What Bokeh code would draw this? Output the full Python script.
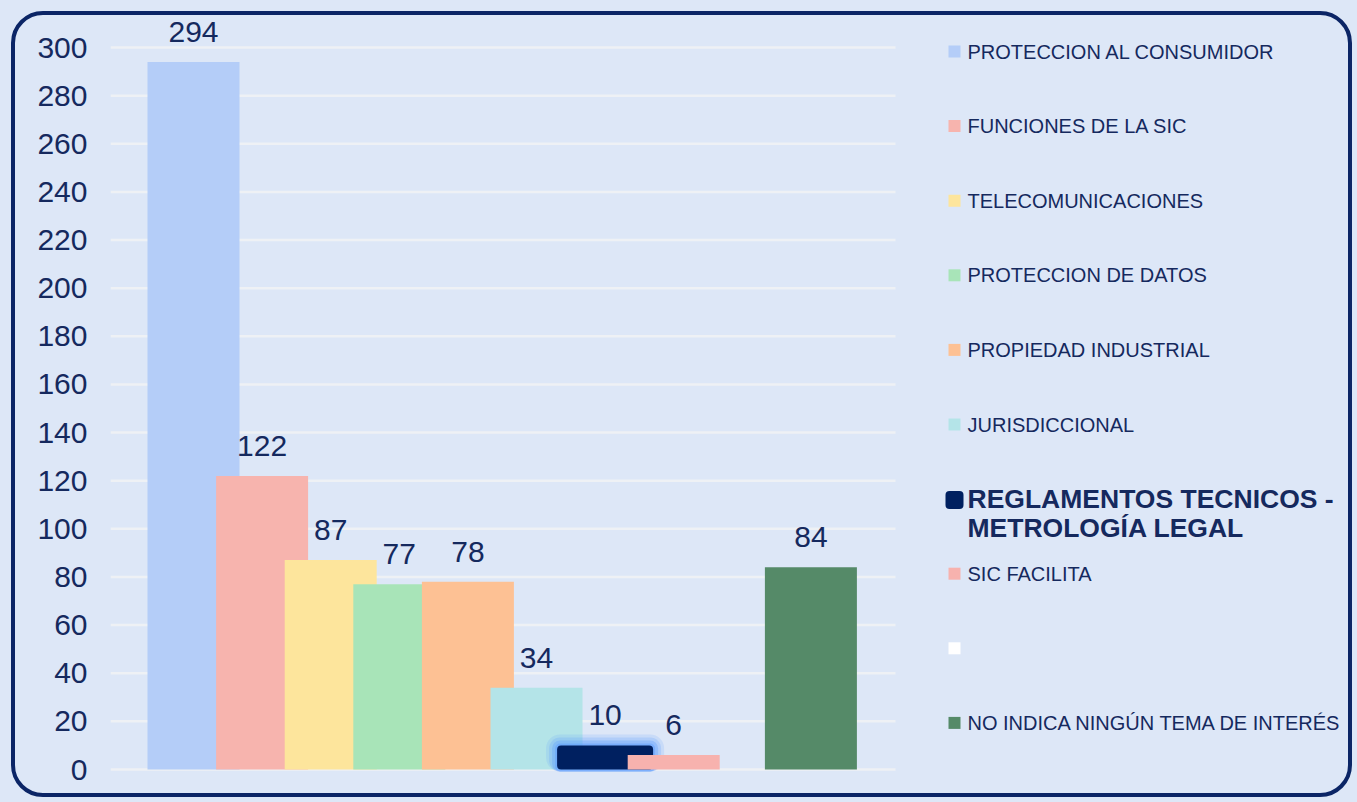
from bokeh.plotting import figure
from bokeh.models import Range1d, FixedTicker
from bokeh.core.properties import value
from bokeh.embed import file_html
from bokeh.resources import INLINE

# ---------------- data ----------------
categories = [
    "PROTECCION AL CONSUMIDOR",
    "FUNCIONES DE LA SIC",
    "TELECOMUNICACIONES",
    "PROTECCION DE DATOS",
    "PROPIEDAD INDUSTRIAL",
    "JURISDICCIONAL",
    "REGLAMENTOS TECNICOS -\nMETROLOGÍA LEGAL",
    "SIC FACILITA",
    "",
    "NO INDICA NINGÚN TEMA DE INTERÉS",
]
values = [294, 122, 87, 77, 78, 34, 10, 6, 0, 84]
colors = ["#b4cdf8", "#f7b4ae", "#fde59c", "#a8e4b8", "#fdc194",
          "#b4e4e8", "#002060", "#f7b2ae", "#ffffff", "#558a68"]
yticks = list(range(0, 301, 20))
highlight = 6   # emphasised series

# ---------------- layout constants (page pixels) ----------------
BG = "#dde7f7"
TXT = "#15295e"
STEP_PX = 68.6          # px per category
BAR_PX = 92.0
PX_PER_UNIT = 722 / 300
BORDER = 4
CANVAS_X, CANVAS_Y = 15, 15       # canvas origin on page
FIG_W, FIG_H = 1333, 778          # requested size
CANVAS_W, CANVAS_H = FIG_W + 2 * BORDER, FIG_H + 2 * BORDER  # drawn size
FRAME_L, FRAME_R, FRAME_T, FRAME_B = 110, 1348, 20, 790
X0_PAGE, Y0_PAGE, Y300_PAGE = 193, 769, 47

x_start = (FRAME_L - X0_PAGE) / STEP_PX
x_end = x_start + (FRAME_R - FRAME_L) / STEP_PX
y_start = -(FRAME_B - Y0_PAGE) / PX_PER_UNIT
y_end = 300 + (Y300_PAGE - FRAME_T) / PX_PER_UNIT

p = figure(width=FIG_W, height=FIG_H, output_backend="svg",
           toolbar_location=None,
           x_range=Range1d(x_start, x_end), y_range=Range1d(y_start, y_end),
           x_axis_type=None,
           min_border_left=FRAME_L - CANVAS_X,
           min_border_right=CANVAS_X + CANVAS_W - FRAME_R,
           min_border_top=FRAME_T - CANVAS_Y,
           min_border_bottom=CANVAS_Y + CANVAS_H - FRAME_B)
p.background_fill_alpha = 0
p.border_fill_alpha = 0
p.outline_line_color = None
p.ygrid.grid_line_color = None
p.styles = {"border": "%dpx solid #0b2566" % BORDER, "border-radius": "32px",
            "box-sizing": "content-box", "background-color": BG}

ax = p.yaxis[0]
ax.ticker = FixedTicker(ticks=yticks)
ax.axis_line_color = None
ax.major_tick_line_color = None
ax.minor_tick_line_color = None
ax.major_tick_out = 0
ax.major_tick_in = 0
ax.major_label_standoff = 23
ax.major_label_text_font = "Liberation Sans"
ax.major_label_text_font_size = "30px"
ax.major_label_text_color = TXT

# gridlines only under the bars area
grid_x_end = (895 - X0_PAGE) / STEP_PX
p.segment(x0=[x_start] * len(yticks), x1=[grid_x_end] * len(yticks),
          y0=yticks, y1=yticks, line_color="#eef1f5", line_width=2.5)

bw = BAR_PX / STEP_PX
idx = list(range(len(values)))

def bar(i):
    p.vbar(x=[i], top=[values[i]], bottom=0, width=bw,
           fill_color=colors[i], line_color=None)

for i in range(highlight):
    bar(i)

# glow for highlighted bar
for k, a in [(11, 0.16), (8, 0.22), (5, 0.32), (2, 0.45)]:
    p.vbar(x=[highlight], top=[values[highlight] + k / PX_PER_UNIT],
           bottom=-2 / PX_PER_UNIT, width=(BAR_PX + 4 + 2 * k) / STEP_PX,
           fill_color="#5b9bff", fill_alpha=a, line_color=None,
           border_radius=k + 3)
p.vbar(x=[highlight], top=[values[highlight]], bottom=0,
       width=(BAR_PX + 4) / STEP_PX, fill_color=colors[highlight],
       line_color=None, border_radius=4)

for i in range(highlight + 1, len(values)):
    bar(i)

# data labels
lab_x = [i for i in idx if categories[i]]
lab_y = [values[i] for i in lab_x]
lab_t = [str(values[i]) for i in lab_x]
p.text(x=lab_x, y=lab_y, text=lab_t, y_offset=-30, text_align="center",
       text_baseline="middle", text_font=value("Liberation Sans"),
       text_font_size="30px", text_color=TXT)

# legend (drawn manually)
sq_x = (954 - X0_PAGE) / STEP_PX
tx_x = (967 - X0_PAGE) / STEP_PX
leg_y = [(Y0_PAGE - (51 + 74.6 * i)) / PX_PER_UNIT for i in idx]
for i in idx:
    if i == highlight:
        p.rect(x=[sq_x], y=[leg_y[i] - 1 / PX_PER_UNIT], width=18, height=18,
               width_units="screen", height_units="screen",
               fill_color=colors[i], line_color=None, border_radius=4)
        lines = categories[i].split("\n")
        for j, ln in enumerate(lines):
            p.text(x=[tx_x], y=[leg_y[i]], text=[ln], y_offset=29 * j,
                   text_align="left", text_baseline="middle",
                   text_font=value("Liberation Sans"), text_font_size="26.5px",
                   text_font_style="bold", text_color=TXT)
    else:
        p.rect(x=[sq_x], y=[leg_y[i]], width=12, height=12,
               width_units="screen", height_units="screen",
               fill_color=colors[i], line_color=None)
        if categories[i]:
            p.text(x=[tx_x], y=[leg_y[i]], text=[categories[i]],
                   text_align="left", text_baseline="middle",
                   text_font=value("Liberation Sans"), text_font_size="20px",
                   text_color=TXT)

html = file_html(p, INLINE, title="chart")
css = ("<style>html, body {background-color: %s !important;} "
       "body {padding: 11px 0 0 11px !important;}</style>" % BG)
html = html.replace("</head>", css + "</head>", 1)
open("out.html", "w").write(html)
